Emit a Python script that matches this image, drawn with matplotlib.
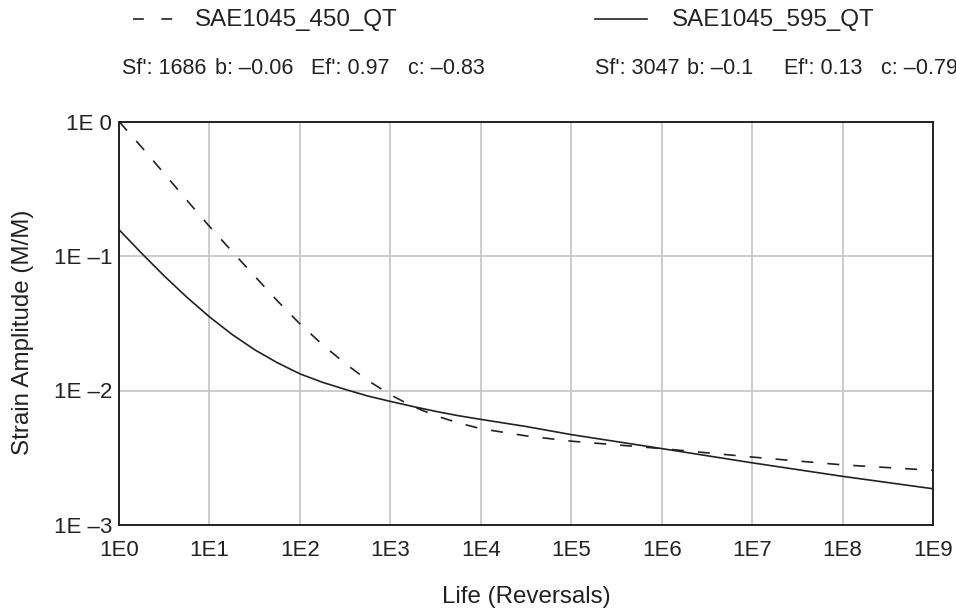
import matplotlib
matplotlib.use("Agg")
import matplotlib.pyplot as plt
import matplotlib.lines as lines

plt.rcParams['font.family'] = ['Liberation Sans', 'DejaVu Sans']

# life in reversals
life = [1, 1.78, 3.16, 5.62, 10, 17.8, 31.6, 56.2, 100, 178, 316, 562,
        1e3, 1.78e3, 3.16e3, 5.62e3, 1e4, 3.16e4, 1e5, 1e6, 1e7, 1e8, 1e9]
# strain amplitude, SAE1045_450_QT (dashed)
strain_450 = [1.0, 0.645, 0.41, 0.26, 0.166, 0.108, 0.0709, 0.0465, 0.0313, 0.0219, 0.0159, 0.0119,
              0.0093, 0.0076, 0.0065, 0.00575, 0.0052, 0.0046, 0.0042, 0.0037, 0.0032, 0.0028, 0.00255]
# strain amplitude, SAE1045_595_QT (solid)
strain_595 = [0.157, 0.1047, 0.0711, 0.0494, 0.0353, 0.0261, 0.0201, 0.0161, 0.0133, 0.0115, 0.0102, 0.0091,
              0.0083, 0.0076, 0.0070, 0.0065, 0.0061, 0.0054, 0.0047, 0.0037, 0.0029, 0.0023, 0.00186]

names = ['SAE1045_450_QT', 'SAE1045_595_QT']
sf = ['1686', '3047']
b = ['\u20130.06', '\u20130.1']
ef = ['0.97', '0.13']
c = ['\u20130.83', '\u20130.79']

x_ticks = [10 ** i for i in range(10)]
x_labels = ['1E%d' % i for i in range(10)]
y_ticks = [1, 0.1, 0.01, 0.001]
y_labels = ['1E 0', '1E \u20131', '1E \u20132', '1E \u20133']

W, H = 956, 610
fig = plt.figure(figsize=(W / 100, H / 100), dpi=100)
ax = fig.add_axes([119 / W, 1 - 525 / H, (933 - 119) / W, (525 - 121.5) / H])

line_color = '#222222'
ax.plot(life, strain_450, color=line_color, lw=1.2, dashes=(7.2, 8.4), clip_on=False)
ax.plot(life, strain_595, color=line_color, lw=1.2, clip_on=False)

ax.set_xscale('log')
ax.set_yscale('log')
ax.set_xlim(1, 1e9)
ax.set_ylim(1e-3, 1)
ax.set_xticks(x_ticks)
ax.set_xticklabels(x_labels)
ax.set_yticks(y_ticks)
ax.set_yticklabels(y_labels)
ax.minorticks_off()
ax.tick_params(length=0, labelsize=16, colors='#222222')
ax.tick_params(axis='x', pad=11)
ax.tick_params(axis='y', pad=5)
ax.grid(True, color='#c8c8c8', lw=1.3)
ax.set_axisbelow(True)
for s in ax.spines.values():
    s.set_linewidth(1.4)
    s.set_color('#222222')

ax.set_xlabel('Life (Reversals)', fontsize=17.4, color='#222222')
ax.set_ylabel('Strain Amplitude (M/M)', fontsize=17.4, color='#222222')
ax.xaxis.set_label_coords(0.5, -(597 - 525) / 403.5)
ax.yaxis.set_label_coords(-(119 - 23) / 814, (525 - 332) / 403.5)
ax.xaxis.label.set_va('center')
ax.yaxis.label.set_va('center')

# legend block above the plot
sample_x = [(133, 173), (595, 647)]
name_x = [195, 672]
field_x = [(122, 215, 311, 408), (595, 687, 784, 881)]
for i in range(2):
    x0, x1 = sample_x[i]
    ls = dict(dashes=(6.5, 10.5)) if i == 0 else {}
    fig.add_artist(lines.Line2D([x0 / W, x1 / W], [1 - 19 / H, 1 - 19 / H],
                                color=line_color, lw=1.2, **ls))
    fig.text(name_x[i] / W, 1 - 20 / H, names[i], fontsize=17.4, color='#222222', va='center')
    parts = ["Sf': " + sf[i], 'b: ' + b[i], "Ef': " + ef[i], 'c: ' + c[i]]
    for xp, txt in zip(field_x[i], parts):
        fig.text(xp / W, 1 - 68.5 / H, txt, fontsize=15.5, color='#222222', va='center')

fig.savefig('out.png', dpi=100)
